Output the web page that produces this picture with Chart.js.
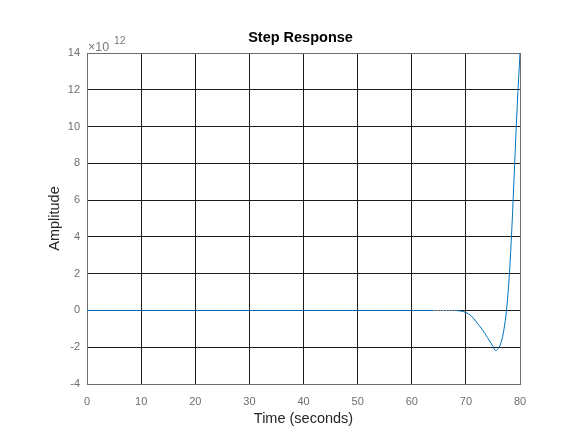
<!DOCTYPE html>
<html>
<head>
<meta charset="utf-8">
<script src="https://cdn.jsdelivr.net/npm/chart.js@4"></script>
<style>
  html, body { margin: 0; padding: 0; background: #fff; }
  #wrap { width: 573px; height: 430px; }
</style>
</head>
<body>
<div id="wrap"><canvas id="myChart" width="573" height="430"></canvas></div>
<script>
// step response, amplitude in units of 1e12
const timeSec = [0, 10, 20, 30, 40, 50, 60, 64, 66, 68, 69, 70, 71, 72, 73, 74, 75, 75.5, 76, 76.5, 77, 77.5, 78, 78.5, 79, 79.5, 80];
const amplitudeE12 = [0, 0, 0, 0, 0, 0, 0, 0, 0, 0, -0.03, -0.11, -0.3, -0.65, -1.03, -1.48, -1.95, -2.18, -2.07, -1.75, -1.1, 0, 1.8, 4.5, 7.9, 11.2, 14];
const dottedFrom = 64, dottedTo = 68;

const xTicks = [0, 10, 20, 30, 40, 50, 60, 70, 80];
const yTicks = [-4, -2, 0, 2, 4, 6, 8, 10, 12, 14];

const FONT = "'Liberation Sans', Arial, sans-serif";

const points = timeSec.map((t, i) => ({ x: t, y: amplitudeE12[i] }));

// title and the "x10^12" exponent label above the y axis
const extraText = {
    id: 'extraText',
    afterDraw(chart) {
        const ctx = chart.ctx;
        const area = chart.chartArea;
        ctx.save();
        ctx.textBaseline = 'alphabetic';

        ctx.fillStyle = '#000';
        ctx.textAlign = 'center';
        ctx.font = "bold 14.5px " + FONT;
        ctx.fillText('Step Response', (area.left + area.right) / 2 - 3, 41.5);

        ctx.fillStyle = '#7a7a7a';
        ctx.textAlign = 'left';
        ctx.font = "12.5px " + FONT;
        ctx.fillText('\u00d710', area.left + 1, area.top - 2);
        ctx.font = "10.5px " + FONT;
        ctx.fillText('12', area.left + 27, area.top - 9);
        ctx.restore();
    }
};

const gridColor = (ctx, lo, hi) =>
    (ctx.tick && (ctx.tick.value === lo || ctx.tick.value === hi)) ? '#6e6e6e' : '#1c1c1c';

new Chart(document.getElementById("myChart"), {
    type: 'line',
    data: {
        datasets: [{
            data: points,
            borderColor: '#0072bd',
            borderWidth: 1,
            pointRadius: 0,
            fill: false,
            tension: 0.35,
            segment: {
                borderDash: c => (c.p0.parsed.x >= dottedFrom && c.p1.parsed.x <= dottedTo) ? [2, 1] : undefined,
                borderColor: c => (c.p0.parsed.x >= dottedFrom && c.p1.parsed.x <= dottedTo) ? '#8fb3cf' : undefined
            }
        }]
    },
    plugins: [extraText],
    options: {
        responsive: false,
        animation: false,
        devicePixelRatio: 1,
        layout: { padding: { left: 0, right: 53, top: 53, bottom: 0 } },
        plugins: {
            legend: { display: false },
            tooltip: { enabled: false },
            title: { display: false }
        },
        scales: {
            x: {
                type: 'linear',
                min: 0,
                max: 80,
                afterBuildTicks: s => { s.ticks = xTicks.map(v => ({ value: v })); },
                afterFit: s => { s.height = 46; },
                ticks: {
                    color: '#6e6e6e',
                    font: { family: FONT, size: 11 },
                    padding: 11,
                    maxRotation: 0
                },
                grid: {
                    color: c => gridColor(c, 0, 80),
                    lineWidth: 1,
                    drawTicks: false
                },
                border: { color: '#6e6e6e', width: 1 },
                title: {
                    display: true,
                    text: 'Time (seconds)',
                    color: '#262626',
                    font: { family: FONT, size: 14.5 },
                    padding: { top: 0, bottom: 2.5 }
                }
            },
            y: {
                type: 'linear',
                min: -4,
                max: 14,
                afterBuildTicks: s => { s.ticks = yTicks.map(v => ({ value: v })); },
                afterFit: s => { s.width = 87; },
                ticks: {
                    color: '#6e6e6e',
                    font: { family: FONT, size: 11 },
                    padding: 7
                },
                grid: {
                    color: c => gridColor(c, -4, 14),
                    lineWidth: 1,
                    drawTicks: false
                },
                border: { color: '#6e6e6e', width: 1 },
                title: {
                    display: true,
                    text: 'Amplitude',
                    color: '#262626',
                    font: { family: FONT, size: 14.5 },
                    padding: { top: 46, bottom: 0 }
                }
            }
        }
    }
});
</script>
</body>
</html>
